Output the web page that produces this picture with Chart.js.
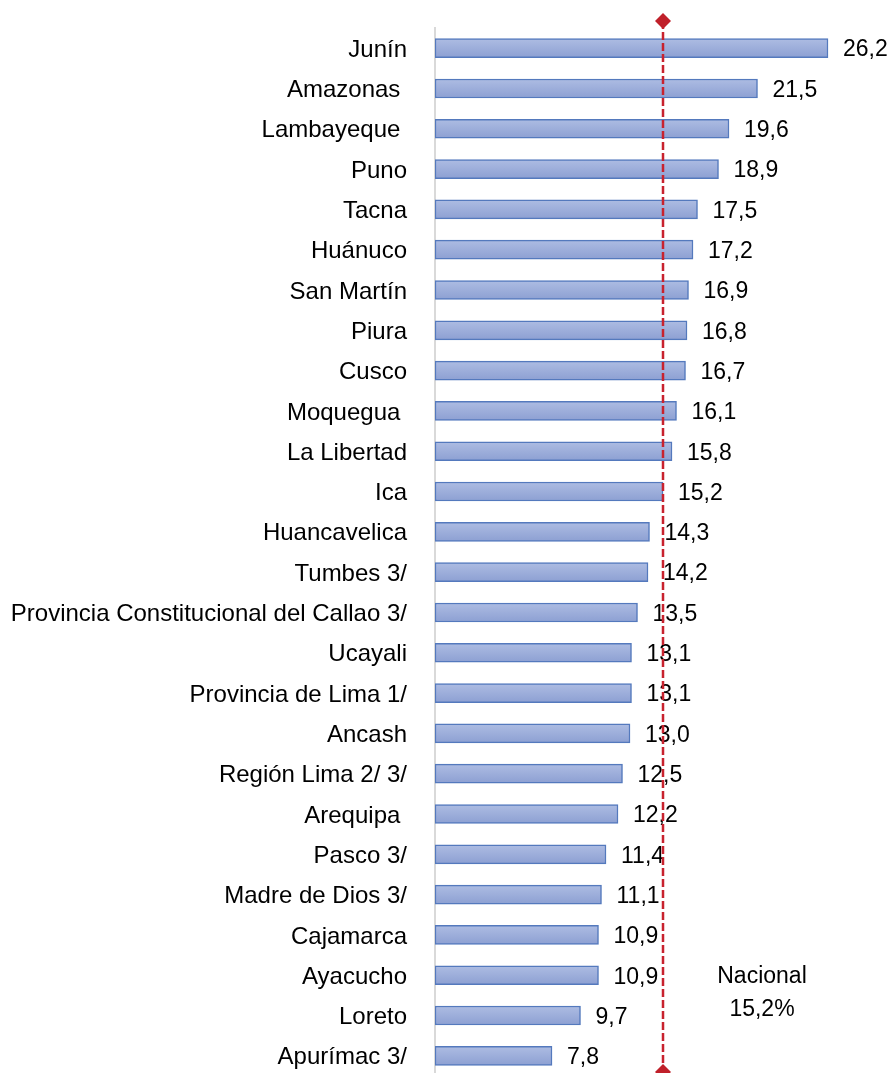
<!DOCTYPE html>
<html>
<head>
<meta charset="utf-8">
<script src="https://cdn.jsdelivr.net/npm/chart.js@4"></script>
<style>
  html, body { margin: 0; padding: 0; background: #fff; overflow: hidden; }
  #wrap { width: 893px; height: 1076px; position: relative; }
</style>
</head>
<body>
<div id="wrap"><canvas id="tasaChart"></canvas></div>
<script>
// Tasa por región, ordenada de mayor a menor
const regiones = [
  "Junín", "Amazonas ", "Lambayeque ", "Puno", "Tacna", "Huánuco", "San Martín",
  "Piura", "Cusco", "Moquegua ", "La Libertad", "Ica", "Huancavelica", "Tumbes 3/",
  "Provincia Constitucional del Callao 3/", "Ucayali", "Provincia de Lima 1/", "Ancash",
  "Región Lima 2/ 3/", "Arequipa ", "Pasco 3/", "Madre de Dios 3/", "Cajamarca",
  "Ayacucho", "Loreto", "Apurímac 3/"
];
const tasas = [
  26.2, 21.5, 19.6, 18.9, 17.5, 17.2, 16.9, 16.8, 16.7, 16.1, 15.8, 15.2, 14.3, 14.2,
  13.5, 13.1, 13.1, 13.0, 12.5, 12.2, 11.4, 11.1, 10.9, 10.9, 9.7, 7.8
];
const nacional = 15.2;
const nacionalTexto = ["Nacional", "15,2%"];

const FONT = "'Liberation Sans', Arial, sans-serif";
const fmt = v => v.toFixed(1).replace(".", ",");

// degradado vertical dentro de cada barra
function barGradient(ctx) {
  const chart = ctx.chart;
  const y = chart.scales && chart.scales.y;
  if (!y || ctx.type !== "data") return "#9fb0dc";
  const cy = y.getPixelForValue(ctx.dataIndex);
  if (!isFinite(cy)) return "#9fb0dc";
  const g = chart.ctx.createLinearGradient(0, cy - 10, 0, cy + 10);
  g.addColorStop(0, "#aebde3");
  g.addColorStop(1, "#8c9fd2");
  return g;
}

// etiquetas de valor al final de cada barra
const valueLabels = {
  id: "valueLabels",
  afterDatasetsDraw(chart) {
    const ctx = chart.ctx;
    const meta = chart.getDatasetMeta(0);
    ctx.save();
    ctx.font = "23px " + FONT;
    ctx.fillStyle = "#000";
    ctx.textBaseline = "middle";
    ctx.textAlign = "left";
    meta.data.forEach((bar, i) => {
      ctx.fillText(fmt(tasas[i]), bar.x + 15, bar.y + 2);
    });
    ctx.restore();
  }
};

// línea del promedio nacional con marcas en rombo
const lineaNacional = {
  id: "lineaNacional",
  afterDatasetsDraw(chart) {
    const ctx = chart.ctx;
    const x = chart.scales.x.getPixelForValue(nacional);
    const y0 = 21, y1 = 1072;
    ctx.save();
    ctx.strokeStyle = "#c8222e";
    ctx.lineWidth = 2.5;
    ctx.setLineDash([8, 3]);
    ctx.beginPath();
    ctx.moveTo(x, y0);
    ctx.lineTo(x, y1);
    ctx.stroke();
    ctx.setLineDash([]);
    ctx.fillStyle = "#c0202a";
    [y0, y1].forEach(yy => {
      ctx.beginPath();
      ctx.moveTo(x, yy - 8);
      ctx.lineTo(x + 8, yy);
      ctx.lineTo(x, yy + 8);
      ctx.lineTo(x - 8, yy);
      ctx.closePath();
      ctx.fill();
    });
    // leyenda del valor nacional
    const yAy = chart.scales.y.getPixelForValue(23);
    ctx.font = "23px " + FONT;
    ctx.fillStyle = "#000";
    ctx.textAlign = "center";
    ctx.textBaseline = "middle";
    ctx.fillText(nacionalTexto[0], x + 99, yAy + 1);
    ctx.fillText(nacionalTexto[1], x + 99, yAy + 34);
    ctx.restore();
  }
};

new Chart(document.getElementById("tasaChart"), {
  type: "bar",
  data: {
    labels: regiones,
    datasets: [{
      data: tasas,
      backgroundColor: barGradient,
      borderColor: "#5479bd",
      borderWidth: 1.5,
      borderSkipped: false,
      barThickness: 19
    }]
  },
  options: {
    indexAxis: "y",
    responsive: true,
    maintainAspectRatio: false,
    animation: false,
    layout: { padding: { top: 28, right: 8, bottom: 0, left: 0 } },
    plugins: {
      legend: { display: false },
      tooltip: { enabled: false }
    },
    scales: {
      x: { display: false, min: 0, max: 30 },
      y: {
        afterFit(s) {
          s.width = 435;
          s.paddingTop = 0;
          s.paddingBottom = 0;
        },
        grid: { display: false, drawTicks: false },
        border: { display: true, color: "#d9d9d9", width: 2 },
        ticks: {
          color: "#000",
          padding: 28,
          labelOffset: 2,
          autoSkip: false,
          font: { family: FONT, size: 24 }
        }
      }
    }
  },
  plugins: [valueLabels, lineaNacional]
});
</script>
</body>
</html>
